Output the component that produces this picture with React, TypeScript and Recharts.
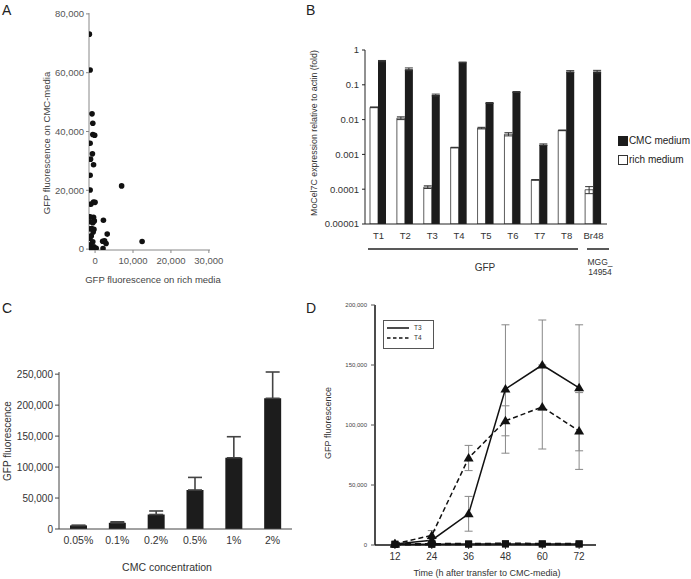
import React from 'react';
import {
  ScatterChart, Scatter, XAxis, YAxis, ReferenceArea, BarChart, Bar, ErrorBar,
  LineChart, Line, Legend,
} from 'recharts';

const FONT = '"Liberation Sans", Arial, Helvetica, sans-serif';

// ---------- Panel A: scatter ----------
const richMediaFluor = [
  -1500, -1300, -800, -600, -600, -100, -1300, -700, -1200, -400, -1300, -1300, -1100, -400, 0,
  7000, -400, -200, -1300, -1200, -600, -900, -300, -1300, -1400, 2200, 3200, 2500, 2000, 2900,
  2100, 12400, -1200, -900, -300, 300, -600, -1400, -100, -1000, -500,
];
const cmcMediaFluor = [
  73100, 60900, 46000, 42800, 39000, 38700, 36000, 32400, 30600, 28700, 25100, 20100, 15300, 16000, 15900,
  21500, 10800, 9600, 11000, 9300, 9000, 7000, 6700, 6900, 3700, 9800, 5100, 2800, 2700, 1900,
  200, 2600, 1500, 300, 800, 300, 2500, 0, 0, 4500, 5800,
];
const aXTicks = [0, 10000, 20000, 30000];
const aYTicks = [0, 20000, 40000, 60000, 80000];

// ---------- Panel B: log bars ----------
const strains = ['T1', 'T2', 'T3', 'T4', 'T5', 'T6', 'T7', 'T8', 'Br48'];
const cmcMedium = [0.48, 0.28, 0.051, 0.44, 0.030, 0.062, 0.0019, 0.24, 0.24];
const cmcMediumErr = [0.02, 0.025, 0.003, 0.01, 0.001, 0.002, 0.0001, 0.015, 0.02];
const richMedium = [0.0225, 0.011, 0.000115, 0.00157, 0.0057, 0.0038, 0.000185, 0.0049, 0.0000965];
const richMediumErr = [0.0005, 0.001, 0.00001, 0.00003, 0.0003, 0.0004, 0.000004, 0.0001, 0.000022];
const bYTicks = [0.00001, 0.0001, 0.001, 0.01, 0.1, 1];
const bYTickLabels = ['0.00001', '0.0001', '0.001', '0.01', '0.1', '1'];

// ---------- Panel C: bars ----------
const concentrations = ['0.05%', '0.1%', '0.2%', '0.5%', '1%', '2%'];
const cmcFluorescence = [5800, 10000, 23400, 63000, 115000, 211000];
const cmcFluorescenceErr = [0, 1600, 5700, 20300, 34000, 42500];
const cYTicks = [0, 50000, 100000, 150000, 200000, 250000];

// ---------- Panel D: time course ----------
const hours = [12, 24, 36, 48, 60, 72];
const t3Cmc = [800, 4000, 26000, 130000, 150000, 131000];
const t3CmcErr = [500, 1500, 14500, 53500, 37500, 52500];
const t4Cmc = [1000, 8000, 72500, 103500, 115000, 95000];
const t4CmcErr = [500, 4000, 10500, 12500, 35000, 32000];
const t3Rich = [600, 700, 800, 900, 900, 900];
const t4Rich = [600, 700, 800, 1000, 900, 900];
const dYTicks = [0, 50000, 100000, 150000, 200000];

const scatterData = richMediaFluor.map((x, i) => ({ x, y: cmcMediaFluor[i] }));
const bData = strains.map((s, i) => ({
  strain: s,
  rich: richMedium[i],
  richErr: richMediumErr[i],
  cmc: cmcMedium[i],
  cmcErr: cmcMediumErr[i],
}));
const cData = concentrations.map((c, i) => ({
  conc: c,
  value: cmcFluorescence[i],
  err: [0, cmcFluorescenceErr[i]],
}));
const dData = hours.map((h, i) => ({
  h,
  t3: t3Cmc[i],
  t3Err: t3CmcErr[i],
  t4: t4Cmc[i],
  t4Err: t4CmcErr[i],
  t3r: t3Rich[i],
  t4r: t4Rich[i],
}));

const fmt = (v: number) => v.toLocaleString('en-US');

const Dot = (props: any) => {
  const { cx, cy } = props;
  if (cx == null || cy == null) return null;
  return <circle cx={cx} cy={cy} r={2.8} fill="#111" />;
};

const Triangle = (props: any) => {
  const { cx, cy } = props;
  if (cx == null || cy == null) return <g />;
  return <path d={`M${cx},${cy - 5} L${cx + 5},${cy + 3.5} L${cx - 5},${cy + 3.5} Z`} fill="#111" />;
};

const Square = (props: any) => {
  const { cx, cy } = props;
  if (cx == null || cy == null) return <g />;
  return <rect x={cx - 3.5} y={cy - 3.5} width={7} height={7} fill="#111" />;
};

const BLegend = () => (
  <div style={{ fontFamily: FONT, fontSize: 10, color: '#222', lineHeight: '19px', whiteSpace: 'nowrap' }}>
    <div style={{ display: 'flex', alignItems: 'center' }}>
      <span style={{ display: 'inline-block', width: 8, height: 8, background: '#1c1c1c', border: '1px solid #1c1c1c', marginRight: 1 }} />
      CMC medium
    </div>
    <div style={{ display: 'flex', alignItems: 'center' }}>
      <span style={{ display: 'inline-block', width: 8, height: 8, background: '#fff', border: '1px solid #333', marginRight: 1 }} />
      rich medium
    </div>
  </div>
);

const DLegend = () => (
  <svg width={51} height={29} style={{ display: 'block' }}>
    <rect x={0.5} y={0.5} width={50} height={28} fill="#fff" stroke="#555" />
    <line x1={4} y1={8} x2={26} y2={8} stroke="#111" strokeWidth={1.5} />
    <text x={31} y={10.3} fontSize={6.5} fill="#333" fontFamily={FONT}>T3</text>
    <line x1={4} y1={18} x2={26} y2={18} stroke="#111" strokeWidth={1.5} strokeDasharray="3.5 2.5" />
    <text x={31} y={20.3} fontSize={6.5} fill="#333" fontFamily={FONT}>T4</text>
  </svg>
);

const abs = (left: number, top: number): React.CSSProperties => ({ position: 'absolute', left, top });

export default function App() {
  const tickA = { fontSize: 9.5, fill: '#555', fontFamily: FONT };
  const tickB = { fontSize: 9.5, fill: '#333', fontFamily: FONT };
  const tickCx = { fontSize: 10.5, fill: '#333', fontFamily: FONT };
  const tickCy = { fontSize: 10, fill: '#333', fontFamily: FONT };
  return (
    <div style={{ position: 'absolute', left: 0, top: 0, width: 691, height: 579, background: '#fff', overflow: 'hidden' }}>
      {/* Panel A */}
      <div style={abs(0, 0)}>
        <ScatterChart width={340} height={290} margin={{ top: 13, right: 130, bottom: 10, left: 39 }}>
          <XAxis type="number" dataKey="x" domain={[-1600, 30300]} ticks={aXTicks} tickFormatter={fmt}
            height={30} allowDataOverflow axisLine={{ stroke: '#888' }} tickLine={{ stroke: '#888' }}
            tickSize={3} tickMargin={4} tick={tickA} />
          <YAxis type="number" dataKey="y" domain={[-300, 80300]} ticks={aYTicks} tickFormatter={fmt}
            width={50} allowDataOverflow axisLine={{ stroke: '#888' }} tickLine={{ stroke: '#888' }}
            tickSize={3} tickMargin={2} tick={tickA} />
          <ReferenceArea fill="none" stroke="#888" strokeWidth={1} />
          <Scatter data={scatterData} fill="#111" shape={Dot} isAnimationActive={false} />
        </ScatterChart>
      </div>

      {/* Panel B */}
      <div style={abs(300, 0)}>
        <BarChart width={391} height={290} data={bData} margin={{ top: 50, right: 84, bottom: 46, left: 0 }}
          barGap={0} barSize={8}>
          <XAxis dataKey="strain" height={20} tickLine={false} axisLine={{ stroke: '#222' }} tick={tickB} />
          <YAxis scale="log" domain={[0.00001, 1]} ticks={bYTicks} allowDataOverflow width={65}
            tickFormatter={(v: number) => bYTickLabels[bYTicks.indexOf(v)] ?? String(v)}
            axisLine={{ stroke: '#222' }} tickLine={{ stroke: '#222' }} tickSize={3} tickMargin={3} tick={tickB} />
          <Bar dataKey="rich" name="rich medium" fill="#fff" stroke="#333" strokeWidth={0.8} isAnimationActive={false}>
            <ErrorBar dataKey="richErr" width={4} stroke="#333" strokeWidth={1} />
          </Bar>
          <Bar dataKey="cmc" name="CMC medium" fill="#1c1c1c" isAnimationActive={false}>
            <ErrorBar dataKey="cmcErr" width={4} stroke="#333" strokeWidth={1} />
          </Bar>
          <Legend layout="vertical" align="center" verticalAlign="middle" content={<BLegend />}
            wrapperStyle={{ left: 318, top: 131, width: 72 }} />
        </BarChart>
      </div>

      {/* Panel C */}
      <div style={abs(0, 290)}>
        <BarChart width={340} height={289} data={cData} margin={{ top: 82, right: 48, bottom: 25, left: 9 }} barSize={17}>
          <XAxis dataKey="conc" height={25} tickLine={false} axisLine={{ stroke: '#444' }} tick={tickCx} />
          <YAxis domain={[0, 250000]} ticks={cYTicks} tickFormatter={fmt} width={50}
            axisLine={{ stroke: '#444' }} tickLine={{ stroke: '#444' }} tickSize={4} tickMargin={2} tick={tickCy} />
          <Bar dataKey="value" fill="#1c1c1c" isAnimationActive={false}>
            <ErrorBar dataKey="err" width={7} stroke="#444" strokeWidth={1.6} />
          </Bar>
        </BarChart>
      </div>

      {/* Panel D */}
      <div style={abs(340, 290)}>
        <LineChart width={351} height={289} data={dData} margin={{ top: 15, right: 95, bottom: 4, left: 0 }}>
          <XAxis dataKey="h" type="number" domain={[5.5, 77.5]} ticks={hours} height={30}
            axisLine={{ stroke: '#111', strokeWidth: 1.5 }} tickLine={{ stroke: '#333' }} tickSize={4} tickMargin={4}
            tick={{ fontSize: 10, fill: '#333', fontFamily: FONT }} />
          <YAxis domain={[0, 200000]} ticks={dYTicks} tickFormatter={fmt} width={35}
            axisLine={{ stroke: '#111', strokeWidth: 1.5 }} tickLine={{ stroke: '#555' }} tickSize={4} tickMargin={4}
            tick={{ fontSize: 6, fill: '#444', fontFamily: FONT }} />
          <ReferenceArea fill="none" stroke="#111" strokeWidth={1.5} />
          <Line dataKey="t3r" name="T3 rich" stroke="#111" strokeWidth={1.5} dot={<Square />} isAnimationActive={false} legendType="none" />
          <Line dataKey="t4r" name="T4 rich" stroke="#111" strokeWidth={2.5} strokeDasharray="6 4" dot={<Square />} isAnimationActive={false} legendType="none" />
          <Line dataKey="t3" name="T3" stroke="#111" strokeWidth={1.5} dot={<Triangle />} isAnimationActive={false}>
            <ErrorBar dataKey="t3Err" width={4} stroke="#888" strokeWidth={1} />
          </Line>
          <Line dataKey="t4" name="T4" stroke="#111" strokeWidth={1.5} strokeDasharray="5 3" dot={<Triangle />} isAnimationActive={false}>
            <ErrorBar dataKey="t4Err" width={4} stroke="#888" strokeWidth={1} />
          </Line>
          <Legend layout="vertical" align="center" verticalAlign="middle" content={<DLegend />}
            wrapperStyle={{ left: 43, top: 30, width: 51, height: 29 }} />
        </LineChart>
      </div>

      {/* Texts and annotations */}
      <svg width={691} height={579} style={{ position: 'absolute', left: 0, top: 0, pointerEvents: 'none' }}
        fontFamily={FONT}>
        <text x={2} y={15} fontSize={14} fill="#222">A</text>
        <text x={306} y={15} fontSize={14} fill="#222">B</text>
        <text x={2} y={313} fontSize={14} fill="#222">C</text>
        <text x={306} y={313} fontSize={14} fill="#222">D</text>

        <text x={0} y={0} fontSize={9.5} fill="#444" textAnchor="middle" dominantBaseline="central"
          transform="translate(46,143) rotate(-90)">GFP fluorescence on CMC-media</text>
        <text x={153} y={279} fontSize={9.5} fill="#444" textAnchor="middle" dominantBaseline="central">GFP fluorescence on rich media</text>

        <text x={0} y={0} fontSize={8.8} fill="#333" textAnchor="middle" dominantBaseline="central"
          transform="translate(314,133) rotate(-90)">MoCel7C expression relative to actin (fold)</text>
        <line x1={368} y1={249} x2={578} y2={249} stroke="#222" strokeWidth={1.5} />
        <text x={485} y={267} fontSize={10} fill="#333" textAnchor="middle" dominantBaseline="central">GFP</text>
        <line x1={587} y1={249} x2={609} y2={249} stroke="#222" strokeWidth={1.5} />
        <text x={600} y={262} fontSize={8.5} fill="#333" textAnchor="middle" dominantBaseline="central">MGG_</text>
        <text x={600} y={272} fontSize={8.5} fill="#333" textAnchor="middle" dominantBaseline="central">14954</text>

        <text x={0} y={0} fontSize={10} fill="#333" textAnchor="middle" dominantBaseline="central"
          transform="translate(7,441) rotate(-90)">GFP fluorescence</text>
        <text x={167} y={567} fontSize={10.5} fill="#333" textAnchor="middle" dominantBaseline="central">CMC concentration</text>

        <text x={0} y={0} fontSize={9} fill="#333" textAnchor="middle" dominantBaseline="central"
          transform="translate(328,423) rotate(-90)">GFP fluorescence</text>
        <text x={487} y={573} fontSize={9} fill="#333" textAnchor="middle" dominantBaseline="central">Time (h after transfer to CMC-media)</text>
      </svg>
    </div>
  );
}
